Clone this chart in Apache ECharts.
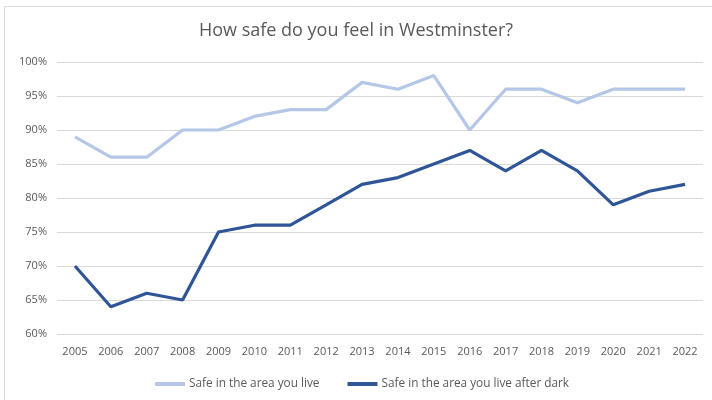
<!DOCTYPE html>
<html>
<head>
<meta charset="utf-8">
<style>
  html, body { margin: 0; padding: 0; background: #fff; }
  #chart { width: 712px; height: 400px; }
</style>
<script src="https://cdn.jsdelivr.net/npm/echarts@6/dist/echarts.min.js"></script>
</head>
<body>
<div id="chart"></div>
<script>
// Survey years
const years = ['2005', '2006', '2007', '2008', '2009', '2010', '2011', '2012', '2013',
               '2014', '2015', '2016', '2017', '2018', '2019', '2020', '2021', '2022'];

// Share of residents feeling safe (%)
const safeArea = [89, 86, 86, 90, 90, 92, 93, 93, 97, 96, 98, 90, 96, 96, 94, 96, 96, 96];
const safeAfterDark = [70, 64, 66, 65, 75, 76, 76, 79, 82, 83, 85, 87, 84, 87, 84, 79, 81, 82];

const seriesNames = ['Safe in the area you live', 'Safe in the area you live after dark'];
const titleText = 'How safe do you feel in Westminster?';

const font = '"Open Sans", "Noto Sans", sans-serif';
const textColor = '#595959';

const chart = echarts.init(document.getElementById('chart'), null, { renderer: 'canvas' });

chart.setOption({
  backgroundColor: '#ffffff',
  animation: false,
  title: {
    text: titleText,
    left: 'center',
    top: 17,
    textStyle: { fontFamily: font, fontSize: 18, fontWeight: 'normal', color: textColor }
  },
  graphic: [{
    type: 'rect',
    shape: { x: 4.5, y: 6.5, width: 720, height: 400 },
    style: { fill: 'none', stroke: '#d9d9d9', lineWidth: 1 },
    silent: true
  }],
  grid: { left: 57, right: 9, top: 62, bottom: 66, containLabel: false },
  legend: {
    bottom: 10,
    left: 155,
    padding: 0,
    itemWidth: 30,
    itemHeight: 4,
    itemGap: 28,
    icon: 'rect',
    textStyle: { fontFamily: font, fontSize: 11.8, color: textColor, padding: [0, 0, 0, -1] },
    data: seriesNames
  },
  xAxis: {
    type: 'category',
    data: years,
    boundaryGap: true,
    axisLine: { show: false },
    axisTick: { show: false },
    axisLabel: { fontFamily: font, fontSize: 11, color: textColor, margin: 12 }
  },
  yAxis: {
    type: 'value',
    min: 60,
    max: 100,
    interval: 5,
    axisLine: { show: false },
    axisTick: { show: false },
    splitLine: { lineStyle: { color: '#d9d9d9', width: 1 } },
    axisLabel: { fontFamily: font, fontSize: 11, color: textColor, margin: 10, formatter: '{value}%' }
  },
  series: [
    {
      name: seriesNames[0],
      type: 'line',
      data: safeArea,
      symbol: 'none',
      lineStyle: { color: '#b4c7e7', width: 3.2 },
      itemStyle: { color: '#b4c7e7' }
    },
    {
      name: seriesNames[1],
      type: 'line',
      data: safeAfterDark,
      symbol: 'none',
      lineStyle: { color: '#2f5597', width: 3.2 },
      itemStyle: { color: '#2f5597' }
    }
  ]
});
</script>
</body>
</html>
